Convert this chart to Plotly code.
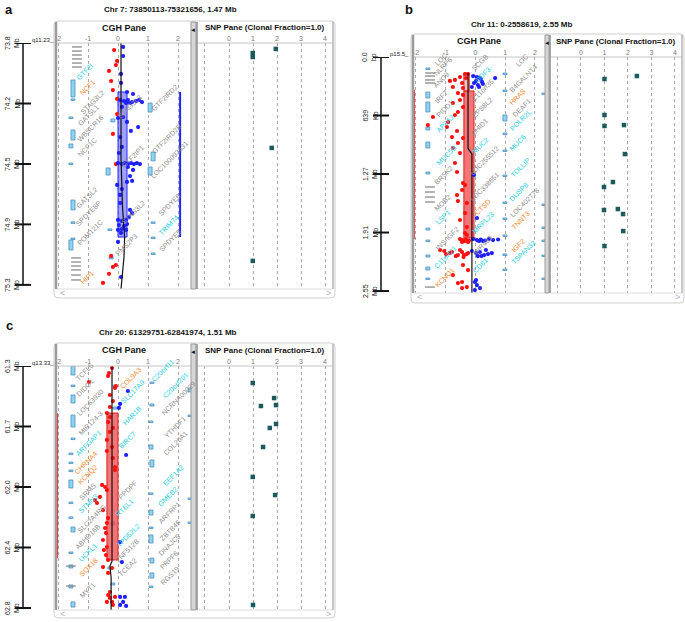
import plotly.graph_objects as go

W, H = 685, 622
FONT = "Liberation Sans, Arial, sans-serif"

# ======================= DATA =======================
# ---------- Panel a : chromosome 7 ----------
A_TITLE = "Chr 7: 73850113-75321656, 1.47 Mb"
A_BAND = "q11.23_"
A_TICK_POS = [73.850, 74.218, 74.586, 74.953, 75.321]
A_TICK_TEXT = ["73.8<br>Mb", "74.2<br>Mb", "74.5<br>Mb", "74.9<br>Mb", "75.3<br>Mb"]

A_RED_POS = [73.893, 73.959, 73.984, 74.020, 74.081, 74.136, 74.190, 74.282, 74.403, 74.586,
             75.145, 75.200, 75.212, 75.254, 75.309]
A_RED_LR = [-0.13, -0.03, -0.07, -0.30, -0.23, -0.17, -0.03, -0.03, -0.17, -0.07,
            -0.23, -0.07, -0.17, -0.30, -0.50]
A_BLUE_POS = [73.874, 73.929, 74.038, 74.093, 74.148, 74.160, 74.197, 74.203, 74.197, 74.209,
              74.203, 74.197, 74.209, 74.215, 74.215, 74.239, 74.306, 74.300, 74.330, 74.385,
              74.361, 74.422, 74.482, 74.519, 74.580, 74.586, 74.580, 74.586, 74.580, 74.586,
              74.580, 74.586, 74.604, 74.622, 74.659, 74.695, 74.689, 74.713, 74.738, 74.774,
              74.823, 74.865, 74.884, 74.908, 74.926, 74.932, 74.926, 74.957, 74.963, 74.951,
              74.987, 74.981, 74.987, 75.005, 75.060, 75.273]
A_BLUE_LR = [0.17, 0.17, 0.10, 0.10, 0.30, 0.50, 0.07, 0.20, 0.33, 0.47,
             0.60, 0.70, 0.80, 0.27, 0.40, 0.13, 0.00, 0.17, 0.30, 0.43,
             0.67, 0.07, 0.13, 0.03, 0.00, 0.13, 0.23, 0.33, 0.43, 0.53,
             0.63, 0.73, 0.33, 0.50, 0.40, 0.30, 0.47, -0.03, 0.13, 0.07,
             0.07, 0.40, 0.47, 0.37, 0.00, 0.13, 0.27, 0.03, 0.20, 0.30,
             0.00, 0.13, 0.27, 0.10, 0.00, 0.10]
A_SEG_LR0 = [0.00]
A_SEG_LR1 = [0.30]
A_SEG_START = [74.148]
A_SEG_END = [75.030]
A_SEG_ALPHA = [0.55]
A_TREND_POS = [73.850, 74.550, 74.850, 75.030, 75.150, 75.346]
A_TREND_LR = [0.10, 0.10, 0.15, 0.22, 0.20, 0.10]
A_CALL_LR = 2.07
A_CALL_POS = [74.148, 75.030]
A_BOX_LR = [-1.50, -1.50, -1.57, -1.50, -1.57, -1.57, -1.50, -1.50, -1.50, -1.57,
            -0.17, -0.33, -0.27, -0.23, 1.07, 1.17, 1.07, 1.17, 1.17, 1.17]
A_BOX_START = [74.075, 74.190, 74.300, 74.379, 74.464, 74.580, 74.805, 74.938, 75.036, 75.048,
               74.312, 74.610, 74.981, 75.151, 74.215, 74.513, 74.604, 74.938, 75.030, 75.127]
A_BOX_END = [74.178, 74.197, 74.306, 74.440, 74.488, 74.586, 74.865, 74.944, 75.042, 75.109,
             74.330, 74.653, 74.987, 75.163, 74.270, 74.567, 74.653, 74.944, 75.036, 75.133]
A_GLYPH_LR = [-1.37, -1.37, -1.37, -1.37, -1.37, -1.37, -1.40, -1.40, -1.40, -1.40, -1.40, -1.40]
A_GLYPH_POS = [73.874, 73.899, 73.923, 73.947, 73.972, 73.996,
               75.157, 75.182, 75.206, 75.230, 75.261, 75.291]
A_LABELS = ["GTF2I", "NCF1", "STAG3L2", "GATSL1", "WBSCR16", "NCF1C", "GATSL2", "SPDYE8P",
            "POM121C", "HIP1", "STAG3L3", "GTF2IP1", "STAG3L2", "PMS2P3", "GTF2IRD2",
            "GTF2IRD2B", "LOC100093631", "SPDYE6", "TRIM74", "SPDYE5"]
A_LABEL_KIND = ["c", "o", "g", "g", "g", "g", "g", "g", "g", "o", "g", "g", "g", "g", "g",
                "g", "g", "g", "c", "g"]
A_LABEL_LR = [-1.10, -1.03, -0.87, -1.00, -0.93, -1.03, -1.03, -1.00, -0.93, -1.03,
              0.40, 0.50, 0.50, 0.30, 1.57, 1.63, 1.73, 1.73, 1.67, 1.73]
A_LABEL_POS = [74.026, 74.118, 74.209, 74.288, 74.367, 74.488, 74.792, 74.884, 75.005, 75.273,
               74.239, 74.543, 74.878, 75.078, 74.184, 74.428, 74.561, 74.835, 74.957, 75.048]
A_SNP_CN = [1.95, 0.99, 0.99, 1.78, 0.99]
A_SNP_POS = [73.886, 73.911, 73.935, 74.488, 75.175]

# ---------- Panel b : chromosome 11 ----------
B_TITLE = "Chr 11: 0-2558619, 2.55 Mb"
B_BAND = "p15.5_"
B_TICK_POS = [0.0, 0.6397, 1.2793, 1.9190, 2.5586]
B_TICK_TEXT = ["0.0<br>bp", "639<br>Kb", "1.27<br>Mb", "1.91<br>Mb", "2.55<br>Mb"]
B_RED_POS = [0.186, 0.186, 0.230, 0.219, 0.251, 0.262, 0.284, 0.328, 0.339, 0.394,
             0.415, 0.470, 0.503, 0.547, 0.601, 0.634, 0.656, 0.744, 0.711, 0.765,
             0.809, 0.875, 0.886, 0.940, 0.995, 1.050, 1.159, 1.257, 1.378, 1.400,
             1.454, 1.509, 1.575, 1.596, 1.706, 1.782, 1.859, 1.924, 1.946,
             1.990, 2.001, 1.995, 2.006, 2.023, 2.023, 2.012,
             2.110, 2.154, 2.132, 2.176, 2.110, 2.165, 2.143, 2.121, 2.143, 2.165, 2.132, 2.154, 2.187,
             2.274, 2.329, 2.384, 2.460, 2.471, 2.515, 2.526]
B_RED_LR = [-0.35, -0.25, -0.32, -0.52, -0.69, -0.86, -0.45, -0.76, -0.42, -0.59,
            -0.42, -0.52, -0.76, -0.42, -0.59, -0.69, -1.43, -1.60, -0.92, -0.96,
            -0.62, -0.79, -0.42, -0.59, -0.76, -0.52, -0.69, -0.62, -0.42, -0.35,
            -0.45, -0.62, -0.59, -0.29, -0.35, -0.52, -0.29, -0.35, -0.29,
            -0.52, -0.42, -0.32, -0.22, -0.45, -0.25, -0.36,
            -1.19, -0.99, -0.79, -0.66, -0.52, -0.39, -0.25, -1.05, -0.86, -0.59, -0.45, -0.30, -0.40,
            -0.42, -0.25, -0.76, -0.45, -0.59, -0.29, -0.45]
B_BLUE_POS = [0.208, 0.219, 0.230, 0.262, 0.273, 0.284, 0.306, 0.328, 0.328, 0.230, 0.241, 0.295,
              1.290, 1.760,
              1.990, 2.001, 1.995, 2.006, 1.990, 2.001, 1.995, 2.012, 2.012,
              2.121, 2.143, 2.132, 2.165, 2.154, 2.143, 2.176, 2.176, 2.110,
              2.460, 2.493, 2.526, 2.548, 2.438]
B_BLUE_LR = [-0.08, 0.05, 0.15, 0.02, 0.22, -0.05, 0.08, -0.12, 0.12, 0.66, 0.18, 0.25,
             -0.05, 0.05,
             -0.08, 0.05, 0.18, 0.32, 0.45, 0.59, 0.76, 0.12, 0.25,
             -0.12, 0.02, 0.15, 0.29, 0.42, 0.55, 0.08, 0.20, 0.35,
             -0.02, 0.05, 0.15, -0.02, 0.02]
B_SEG_LR0 = [-0.39, -0.39]
B_SEG_LR1 = [-0.21, -0.05]
B_SEG_START = [0.175, 0.372]
B_SEG_END = [0.372, 1.979]
B_SEG_ALPHA = [0.35, 0.75]
B_TREND_POS = [0.175, 1.000, 1.060, 2.580]
B_TREND_LR = [-0.25, -0.25, -0.12, -0.12]
B_CALL_LR = -2.07
B_CALL_POS = [0.361, 1.990]
B_BOX_LR = [-1.60, -1.60, -1.60, -1.60, -1.60, -1.60, -1.60, -1.60, -1.60, -1.60, -1.60,
            0.99, 0.99, 0.99, 0.99, 0.99, 0.99, 0.99, 0.99, 0.99, 0.99, 0.99,
            2.30, 2.30, 2.30, 2.30, 2.30, 2.30]
B_BOX_START = [0.120, 0.383, 0.492, 0.765, 0.929, 1.257, 1.870, 2.001, 2.165, 2.296, 2.416,
               0.175, 0.361, 0.634, 0.831, 1.017, 1.290, 1.585, 1.760, 1.946, 2.154, 2.318,
               0.394, 1.607, 1.859, 2.001, 2.165, 2.416]
B_BOX_END = [0.131, 0.448, 0.601, 0.798, 0.995, 1.279, 1.892, 2.012, 2.187, 2.329, 2.427,
             0.186, 0.372, 0.700, 0.842, 1.028, 1.301, 1.596, 1.771, 1.957, 2.165, 2.329,
             0.405, 1.618, 1.870, 2.012, 2.176, 2.427]
B_GLYPH_LR = [-1.53, -1.53, -1.53, -1.53, -1.53, -1.53, -1.53, -1.53, -1.53]
B_GLYPH_POS = [0.175, 0.208, 0.251, 0.284, 1.421, 1.476, 1.531, 1.585, 2.515]
B_LABELS = ["LOC", "NLRP6", "ANO9", "IRF7", "PIDD1", "AP2A2", "MUC5B", "BRSK2", "MOB2", "LSP1",
            "INS-IGF2", "C11orf21", "KCNQ1",
            "SCGB", "ODF3", "C11orf35", "EPS8L2", "CHID1", "MUC2", "LOC255512", "LOC338651",
            "CTSD", "MRPL23", "MIR483", "CD81",
            "LOC", "B4GALNT4", "HRAS", "DEAF1", "POLR2L", "MUC6", "TOLLIP", "DUSP8",
            "LOC402778", "TNNT3", "IGF2", "TSPAN32"]
B_LABEL_KIND = ["g", "g", "g", "g", "g", "c", "c", "g", "g", "c", "g", "c", "o",
                "g", "c", "g", "g", "g", "c", "g", "g", "o", "c", "g", "c",
                "g", "g", "o", "g", "c", "c", "c", "c", "g", "o", "o", "c"]
B_LABEL_LR = [-1.16, -1.09, -1.13, -1.13, -1.03, -1.03, -0.99, -1.09, -1.09, -1.09, -0.96, -1.03, -1.03,
              0.15, 0.25, 0.22, 0.22, 0.15, 0.15, 0.29, 0.32, 0.22, 0.25, 0.22, 0.15,
              1.56, 1.60, 1.43, 1.56, 1.50, 1.43, 1.50, 1.43, 1.66, 1.50, 1.43, 1.60]
B_LABEL_POS = [0.030, 0.109, 0.251, 0.437, 0.558, 0.722, 1.072, 1.290, 1.596, 1.760, 1.979, 2.187, 2.416,
               0.060, 0.186, 0.361, 0.547, 0.765, 0.962, 1.126, 1.421, 1.640, 1.804, 2.056, 2.274,
               0.040, 0.230, 0.437, 0.547, 0.689, 0.940, 1.203, 1.476, 1.596, 1.782, 2.056, 2.132]
B_SNP_CN = [2.38, 1.00, 1.00, 1.00, 1.83, 1.87, 1.36, 0.98, 0.98, 1.57, 1.79, 1.80, 1.00]
B_SNP_POS = [0.208, 0.241, 0.634, 0.754, 0.744, 1.061, 1.367, 1.421, 1.673, 1.662, 1.717, 1.903, 2.067]

# ---------- Panel c : chromosome 20 ----------
C_TITLE = "Chr 20: 61329751-62841974, 1.51 Mb"
C_BAND = "q13.33_"
C_TICK_POS = [61.3298, 61.7078, 62.0859, 62.4639, 62.8420]
C_TICK_TEXT = ["61.3<br>Mb", "61.7<br>Mb", "62.0<br>Mb", "62.4<br>Mb", "62.8<br>Mb"]
C_RED_POS = [61.342, 61.374, 61.392, 61.430, 61.455, 61.467, 61.511, 61.549, 61.586, 61.624,
             61.649, 61.680, 61.717, 61.742, 61.792, 61.836, 61.861, 61.905, 61.961, 61.980,
             62.073, 62.086, 62.105, 62.148, 62.167, 62.186, 62.230, 62.280, 62.311, 62.342,
             62.373, 62.417, 62.461, 62.480, 62.511, 62.542, 62.586, 62.592, 62.623, 62.742,
             62.761, 62.773, 62.779, 62.804, 62.804, 62.823]
C_RED_LR = [-0.20, -0.30, -0.33, -0.97, -0.07, -0.10, -0.27, -0.17, -0.27, -0.37,
            -0.27, -0.33, -0.17, -0.27, -0.37, -0.20, -0.37, -0.17, -0.10, -0.10,
            -0.53, -0.43, -0.37, -0.60, -0.77, -0.70, -0.50, -0.33, -0.37, -0.43,
            -0.40, -0.50, -0.37, -0.47, -0.40, -0.33, -0.50, -0.20, -0.33, -0.27,
            -0.33, -0.10, -0.27, -0.37, -0.20, -0.17]
C_BLUE_POS = [61.486, 61.567, 61.592, 61.886, 62.430, 62.555, 62.773, 62.773, 62.804, 62.823, 62.829]
C_BLUE_LR = [0.33, 0.07, 0.03, 0.27, 0.07, 0.13, 0.07, 0.23, 0.17, 0.07, 0.27]
C_SEG_LR0 = [-0.37]
C_SEG_LR1 = [0.00]
C_SEG_START = [61.624]
C_SEG_END = [62.542]
C_SEG_ALPHA = [0.75]
C_TREND_POS = [61.3298, 62.550, 62.580, 62.650, 62.8545]
C_TREND_LR = [-0.20, -0.20, -0.27, -0.23, -0.23]
C_CALL_LR = -2.03
C_CALL_POS = [61.624, 62.530]
C_BOX_LR = [-1.50, -1.50, -1.50, -1.50, -1.50, -1.57, -1.57, -1.57, -1.57, -1.57, -1.57, -1.50,
            -1.57, -1.57, -1.57, -1.50,
            -0.10, -0.10, -0.17, -0.27, -0.17,
            1.13, 1.13, 1.10, 1.10, 1.13, 1.10, 1.10, 1.10, 1.10, 1.13, 1.13, 1.10,
            2.40, 2.40, 2.40, 2.40]
C_BOX_START = [61.330, 61.449, 61.511, 61.636, 61.780, 61.874, 61.930, 61.980, 62.042, 62.180,
               62.273, 62.336, 62.492, 62.573, 62.698, 62.804,
               61.449, 61.586, 62.305, 62.586, 62.686,
               61.430, 61.567, 61.674, 61.823, 61.917, 62.123, 62.230, 62.336, 62.386, 62.530,
               62.623, 62.705,
               61.467, 61.636, 62.155, 62.305]
C_BOX_END = [61.386, 61.455, 61.561, 61.711, 61.786, 61.880, 61.936, 61.986, 62.092, 62.186,
             62.280, 62.367, 62.498, 62.592, 62.717, 62.836,
             61.461, 61.599, 62.323, 62.598, 62.698,
             61.436, 61.580, 61.680, 61.849, 61.961, 62.130, 62.261, 62.342, 62.436, 62.561,
             62.655, 62.711,
             61.492, 61.642, 62.161, 62.311]
C_GLYPH_LR = [-1.57, -1.57]
C_GLYPH_POS = [62.580, 62.705]
C_LABELS = ["TCFL5", "COL9A3", "DIDO1", "LOC63930", "C20orf11", "C20orf201", "SLC17A9",
            "NCRNA00029", "HAR1B", "MIR124-3", "ARFGAP1", "BIRC7", "YTHDF1", "COL20A1",
            "CHRNA4", "KCNQ2", "EEF1A2", "SRMS", "PPDPF", "GMEB2", "STMN3", "SLC2A4RG",
            "RTEL1", "ARFRP1", "ZBTB46", "ABHD16B", "TPD52L2", "DNAJC5", "UCKL1", "ZNF512B",
            "PRPF6", "SOX18", "TCEA2", "RGS19", "MYT1"]
C_LABEL_KIND = ["g", "o", "g", "g", "c", "c", "c", "g", "c", "g", "c", "c", "g", "g",
                "o", "o", "c", "g", "g", "c", "c", "g", "c", "g", "g", "g", "c", "g", "c", "g",
                "g", "o", "g", "g", "g"]
C_LABEL_LR = [-1.10, 0.40, -1.10, -0.93, 1.50, 1.90, 0.50, 2.00, 0.47, -0.93, -1.00, 0.33, 1.90, 1.90,
              -1.07, -1.00, 1.83, -1.00, 0.30, 1.67, -1.00, -0.87, 0.23, 1.73, 1.73, -1.00, 0.33,
              1.73, -1.00, 0.30, 1.73, -1.00, 0.30, 1.73, -1.03]
C_LABEL_POS = [61.367, 61.405, 61.461, 61.555, 61.361, 61.449, 61.492, 61.530, 61.636, 61.686,
               61.811, 61.792, 61.717, 61.811, 61.930, 62.011, 62.011, 62.117, 62.105, 62.148,
               62.186, 62.280, 62.217, 62.248, 62.355, 62.398, 62.386, 62.448, 62.498, 62.480,
               62.542, 62.586, 62.586, 62.636, 62.730]
C_SNP_CN = [0.99, 1.88, 1.33, 1.96, 1.96, 1.70, 1.42, 0.99, 1.92, 0.99, 1.00]
C_SNP_POS = [61.436, 61.530, 61.580, 61.574, 61.692, 61.717, 61.836, 62.023, 62.136, 62.267, 62.823]

PANELS = [
    dict(letter="a", title=A_TITLE, band=A_BAND, tick_pos=A_TICK_POS, tick_text=A_TICK_TEXT,
         red=(A_RED_LR, A_RED_POS), blue=(A_BLUE_LR, A_BLUE_POS),
         seg=(A_SEG_LR0, A_SEG_LR1, A_SEG_START, A_SEG_END, A_SEG_ALPHA), seg_color="blue",
         trend=(A_TREND_LR, A_TREND_POS), call=(A_CALL_LR, A_CALL_POS), call_color="#2020ff",
         box=(A_BOX_LR, A_BOX_START, A_BOX_END), glyph=(A_GLYPH_LR, A_GLYPH_POS),
         labels=(A_LABELS, A_LABEL_KIND, A_LABEL_LR, A_LABEL_POS), snp=(A_SNP_CN, A_SNP_POS)),
    dict(letter="b", title=B_TITLE, band=B_BAND, tick_pos=B_TICK_POS, tick_text=B_TICK_TEXT,
         red=(B_RED_LR, B_RED_POS), blue=(B_BLUE_LR, B_BLUE_POS),
         seg=(B_SEG_LR0, B_SEG_LR1, B_SEG_START, B_SEG_END, B_SEG_ALPHA), seg_color="red",
         trend=(B_TREND_LR, B_TREND_POS), call=(B_CALL_LR, B_CALL_POS), call_color="#ff2020",
         box=(B_BOX_LR, B_BOX_START, B_BOX_END), glyph=(B_GLYPH_LR, B_GLYPH_POS),
         labels=(B_LABELS, B_LABEL_KIND, B_LABEL_LR, B_LABEL_POS), snp=(B_SNP_CN, B_SNP_POS)),
    dict(letter="c", title=C_TITLE, band=C_BAND, tick_pos=C_TICK_POS, tick_text=C_TICK_TEXT,
         red=(C_RED_LR, C_RED_POS), blue=(C_BLUE_LR, C_BLUE_POS),
         seg=(C_SEG_LR0, C_SEG_LR1, C_SEG_START, C_SEG_END, C_SEG_ALPHA), seg_color="red",
         trend=(C_TREND_LR, C_TREND_POS), call=(C_CALL_LR, C_CALL_POS), call_color="#ff2020",
         box=(C_BOX_LR, C_BOX_START, C_BOX_END), glyph=(C_GLYPH_LR, C_GLYPH_POS),
         labels=(C_LABELS, C_LABEL_KIND, C_LABEL_LR, C_LABEL_POS), snp=(C_SNP_CN, C_SNP_POS)),
]

# ======================= LAYOUT GEOMETRY (pixels) =======================
GEOM = [
    dict(cgh=(56, 191), snp=(197, 333), ypx=(43, 289), frame=(54, 335, 21, 298), div=(191, 196),
         axis_x=23, letter_xy=(9, 10), title_xy=(170, 10), header_y=28,
         cgh_range=(-2.067, 2.433), snp_range=(-1.333, 4.333), y_range=(75.346, 73.850), scroll_y=293),
    dict(cgh=(413, 546), snp=(550, 682), ypx=(57, 293), frame=(411, 684, 34, 303), div=(545, 549),
         axis_x=381, letter_xy=(409, 10), title_xy=(522, 24), header_y=41,
         cgh_range=(-2.10, 2.37), snp_range=(-1.319, 4.30), y_range=(2.580, 0.0), scroll_y=297),
    dict(cgh=(56, 191), snp=(197, 333), ypx=(366, 610), frame=(54, 335, 343, 618), div=(191, 196),
         axis_x=23, letter_xy=(9, 325), title_xy=(168, 332), header_y=350,
         cgh_range=(-2.067, 2.433), snp_range=(-1.333, 4.333), y_range=(62.8545, 61.3298), scroll_y=614),
]

KIND_COLOR = {"g": "#8c8c8c", "c": "#22cfe3", "o": "#f4862a"}
SEG_STYLE = {"blue": ("rgba(80,80,255,{a})", "#2a2aff"), "red": ("rgba(238,70,70,{a})", "#e02020")}


def X(p):
    return p / W


def Y(p):
    return 1 - p / H


def sfx(n):
    return "" if n == 1 else str(n)


def rrect_path(x0, x1, y0, y1, r):
    return (f"M {X(x0 + r)},{Y(y0)} L {X(x1 - r)},{Y(y0)} Q {X(x1)},{Y(y0)} {X(x1)},{Y(y0 + r)} "
            f"L {X(x1)},{Y(y1 - r)} Q {X(x1)},{Y(y1)} {X(x1 - r)},{Y(y1)} L {X(x0 + r)},{Y(y1)} "
            f"Q {X(x0)},{Y(y1)} {X(x0)},{Y(y1 - r)} L {X(x0)},{Y(y0 + r)} Q {X(x0)},{Y(y0)} {X(x0 + r)},{Y(y0)} Z")


def note(xref, yref, x, y, text, size, color, xanchor="center", yanchor="middle", **kw):
    return dict(xref=xref, yref=yref, x=x, y=y, text=text, showarrow=False, xanchor=xanchor,
                yanchor=yanchor, font=dict(size=size, color=color, family=FONT), **kw)


fig = go.Figure()
layout = {}
shapes = []
annotations = []

for i, (P, G) in enumerate(zip(PANELS, GEOM)):
    cn, sn = 2 * i + 1, 2 * i + 2
    cx, cy, sx, sy = "x" + sfx(cn), "y" + sfx(cn), "x" + sfx(sn), "y" + sfx(sn)
    ydom = [Y(G["ypx"][1]), Y(G["ypx"][0])]
    tickfont = dict(size=7, color="#7a7a7a", family=FONT)
    grid = dict(showgrid=True, gridcolor="#a8a8a8", griddash="dot", gridwidth=1, zeroline=False,
                showline=False, ticks="", side="top", tickfont=tickfont, fixedrange=True)
    layout["xaxis" + sfx(cn)] = dict(domain=[X(G["cgh"][0]), X(G["cgh"][1])], anchor=cy,
                                     range=list(G["cgh_range"]), tickvals=[-2, -1, 0, 1, 2],
                                     ticktext=["-2", "-1", "0", "1", "2"], **grid)
    layout["xaxis" + sfx(sn)] = dict(domain=[X(G["snp"][0]), X(G["snp"][1])], anchor=sy,
                                     range=list(G["snp_range"]), tickvals=[-1, 0, 1, 2, 3, 4],
                                     ticktext=["", "0", "1", "2", "3", "4"], **grid)
    yax = dict(domain=ydom, range=list(G["y_range"]), showgrid=False, zeroline=False,
               showticklabels=False, showline=False, fixedrange=True)
    layout["yaxis" + sfx(cn)] = dict(anchor=cx, **yax)
    layout["yaxis" + sfx(sn)] = dict(anchor=sx, **yax)

    # --- frame & pane decorations (paper coordinates) ---
    fx0, fx1, fy0, fy1 = G["frame"]
    shapes.append(dict(type="path", xref="paper", yref="paper", path=rrect_path(fx0, fx1, fy0, fy1, 4),
                       line=dict(color="#cfcfcf", width=1), fillcolor="rgba(0,0,0,0)"))
    y_top, y_bot = G["ypx"]
    for (a0, a1) in [(G["cgh"][0], G["div"][0]), (G["snp"][0], G["snp"][1])]:
        shapes.append(dict(type="line", xref="paper", yref="paper", x0=X(a0), x1=X(a1), y0=Y(y_top), y1=Y(y_top),
                           line=dict(color="#c4c4c4", width=1)))
        shapes.append(dict(type="line", xref="paper", yref="paper", x0=X(a0), x1=X(a1), y0=Y(y_bot), y1=Y(y_bot),
                           line=dict(color="#dcdcdc", width=1)))
    shapes.append(dict(type="line", xref="paper", yref="paper", x0=X(G["cgh"][0]), x1=X(G["cgh"][0]),
                       y0=Y(fy0 + 1), y1=Y(y_bot), line=dict(color="#9c9c9c", width=2.5)))
    shapes.append(dict(type="rect", xref="paper", yref="paper", x0=X(G["div"][0]), x1=X(G["div"][1]),
                       y0=Y(fy0 + 1), y1=Y(y_bot), fillcolor="#d6d6d6", line=dict(color="#9a9a9a", width=1)))
    shapes.append(dict(type="line", xref="paper", yref="paper", x0=X(G["snp"][0]), x1=X(G["snp"][0]),
                       y0=Y(fy0 + 1), y1=Y(y_bot), line=dict(color="#8e8e8e", width=1.5)))
    shapes.append(dict(type="line", xref="paper", yref="paper", x0=X(G["snp"][1]), x1=X(G["snp"][1]),
                       y0=Y(fy0 + 1), y1=Y(y_bot), line=dict(color="#b4b4b4", width=1.5)))
    annotations.append(note("paper", "paper", X((G["div"][0] + G["div"][1]) / 2), Y(G["header_y"] + 2),
                            "◄", 6, "#111"))
    annotations.append(note("paper", "paper", X(G["cgh"][0] + 6), Y(G["scroll_y"]), "&lt;", 9, "#a8b4cc"))
    annotations.append(note("paper", "paper", X(G["snp"][1] - 5), Y(G["scroll_y"]), "&gt;", 9, "#a8b4cc"))
    annotations.append(note("paper", "paper", X((G["cgh"][0] + G["div"][0]) / 2), Y(G["header_y"]),
                            "<b>CGH Pane</b>", 9, "#111"))
    annotations.append(note("paper", "paper", X((G["snp"][0] + G["snp"][1]) / 2), Y(G["header_y"]),
                            "<b>SNP Pane (Clonal Fraction=1.0)</b>", 8, "#111"))
    annotations.append(note("paper", "paper", X(G["title_xy"][0]), Y(G["title_xy"][1]),
                            "<b>" + P["title"] + "</b>", 8, "#111"))
    annotations.append(note("paper", "paper", X(G["letter_xy"][0]), Y(G["letter_xy"][1]),
                            "<b>" + P["letter"] + "</b>", 13, "#111"))

    # --- left position axis (in genomic coordinates) ---
    ax_x = G["axis_x"]
    shapes.append(dict(type="line", xref="paper", yref=cy, x0=X(ax_x), x1=X(ax_x),
                       y0=P["tick_pos"][0], y1=P["tick_pos"][-1], line=dict(color="#111", width=1.5)))
    for pos, txt in zip(P["tick_pos"], P["tick_text"]):
        shapes.append(dict(type="line", xref="paper", yref=cy, x0=X(ax_x - 8), x1=X(ax_x + 8),
                           y0=pos, y1=pos, line=dict(color="#111", width=2)))
        annotations.append(note("paper", cy, X(ax_x - 11), pos, txt, 7, "#222", textangle=-90))
    annotations.append(note("paper", cy, X(ax_x + 7), P["tick_pos"][0], P["band"], 6, "#222",
                            xanchor="left", yanchor="middle", yshift=3))

    # --- CGH pane contents ---
    hw = 2.0 * (G["cgh_range"][1] - G["cgh_range"][0]) / (G["cgh"][1] - G["cgh"][0])
    minh = 1.5 * (G["y_range"][0] - G["y_range"][1]) / (G["ypx"][1] - G["ypx"][0])
    for lr, s, e in zip(*P["box"]):
        if e - s < minh:
            e = s + minh
        shapes.append(dict(type="rect", xref=cx, yref=cy, x0=lr - hw, x1=lr + hw, y0=s, y1=e, layer="between",
                           fillcolor="#8fd3f2", line=dict(color="#4d8fbf", width=0.8)))
    fill_t, edge = SEG_STYLE[P["seg_color"]]
    for l0, l1, s, e, a in zip(*P["seg"]):
        shapes.append(dict(type="rect", xref=cx, yref=cy, x0=l0, x1=l1, y0=s, y1=e, layer="between",
                           fillcolor=fill_t.format(a=a), line=dict(color=edge, width=1)))
    for txt, kind, lr, pos in zip(*P["labels"]):
        annotations.append(note(cx, cy, lr, pos, txt, 7, KIND_COLOR[kind], textangle=-45))
    fig.add_trace(go.Scatter(x=P["glyph"][0], y=P["glyph"][1], mode="markers", xaxis=cx, yaxis=cy,
                             marker=dict(symbol="line-ew", size=7, line=dict(color="#8a8a8a", width=1.3)),
                             hoverinfo="skip"))
    call_lr, call_pos = P["call"]
    fig.add_trace(go.Scatter(x=[call_lr, call_lr], y=call_pos, mode="lines", xaxis=cx, yaxis=cy,
                             line=dict(color=P["call_color"], width=2), hoverinfo="skip"))
    fig.add_trace(go.Scatter(x=P["red"][0], y=P["red"][1], mode="markers", xaxis=cx, yaxis=cy,
                             marker=dict(color="#ff1010", size=4.2, line=dict(width=0))))
    fig.add_trace(go.Scatter(x=P["blue"][0], y=P["blue"][1], mode="markers", xaxis=cx, yaxis=cy,
                             marker=dict(color="#1f1fff", size=4.2, line=dict(width=0))))
    fig.add_trace(go.Scatter(x=P["trend"][0], y=P["trend"][1], mode="lines", xaxis=cx, yaxis=cy,
                             line=dict(color="#111", width=1.2)))
    # --- SNP pane ---
    fig.add_trace(go.Scatter(x=P["snp"][0], y=P["snp"][1], mode="markers", xaxis=sx, yaxis=sy,
                             marker=dict(color="#1c5b5b", size=4.5, symbol="square", line=dict(width=0))))

fig.update_layout(width=W, height=H, margin=dict(l=0, r=0, t=0, b=0), showlegend=False,
                  paper_bgcolor="white", plot_bgcolor="white", shapes=shapes, annotations=annotations,
                  font=dict(family=FONT), **layout)
fig.write_html("out.html", config={"displayModeBar": False},
               post_script="document.body.style.margin='0';document.body.style.padding='0';")
